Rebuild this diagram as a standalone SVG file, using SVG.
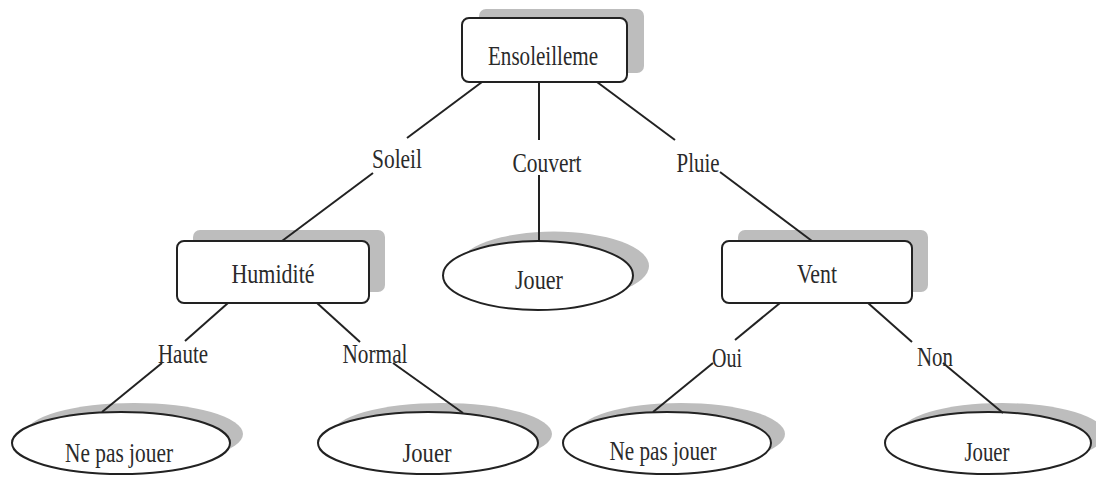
<svg xmlns="http://www.w3.org/2000/svg" width="1096" height="477" viewBox="0 0 1096 477">
<defs>
<style>
.shadow{fill:#bdbdbd;stroke:none}
.node{fill:#ffffff;stroke:#222;stroke-width:2}
.edge{stroke:#222;stroke-width:2;fill:none}
text{font-family:"Liberation Serif","Times New Roman",serif;font-size:28px;fill:#2a2a2a;text-anchor:middle}
</style>
</defs>
<rect width="1096" height="477" fill="#ffffff"/>
<g id="node-ensoleillement">
<rect class="shadow" x="479" y="9" width="165" height="64" rx="7"/>
<rect class="node" x="462" y="18" width="165" height="64" rx="7"/>
<text x="543" y="65" textLength="110" lengthAdjust="spacingAndGlyphs">Ensoleilleme</text>
</g>
<g id="node-humidite">
<rect class="shadow" x="193" y="230" width="192" height="62" rx="7"/>
<rect class="node" x="177" y="241" width="192" height="62" rx="7"/>
<text x="273" y="283" textLength="83" lengthAdjust="spacingAndGlyphs">Humidité</text>
</g>
<g id="node-jouer-couvert">
<ellipse class="shadow" cx="554" cy="266" rx="95" ry="34.5"/>
<ellipse class="node" cx="538" cy="275.5" rx="95" ry="34.5"/>
<text x="539" y="289" textLength="48" lengthAdjust="spacingAndGlyphs">Jouer</text>
</g>
<g id="node-vent">
<rect class="shadow" x="738" y="230" width="190" height="62" rx="7"/>
<rect class="node" x="722" y="241" width="190" height="62" rx="7"/>
<text x="817" y="283" textLength="40" lengthAdjust="spacingAndGlyphs">Vent</text>
</g>
<g id="node-nepasjouer-haute">
<ellipse class="shadow" cx="134" cy="434" rx="109" ry="31"/>
<ellipse class="node" cx="121" cy="443" rx="109" ry="31"/>
<text x="119" y="462" textLength="108" lengthAdjust="spacingAndGlyphs">Ne pas jouer</text>
</g>
<g id="node-jouer-normal">
<ellipse class="shadow" cx="442" cy="434" rx="110" ry="31"/>
<ellipse class="node" cx="428" cy="443" rx="110" ry="31"/>
<text x="427" y="462" textLength="49" lengthAdjust="spacingAndGlyphs">Jouer</text>
</g>
<g id="node-nepasjouer-oui">
<ellipse class="shadow" cx="681" cy="434" rx="104" ry="31"/>
<ellipse class="node" cx="667" cy="443" rx="104" ry="31"/>
<text x="663" y="460" textLength="107" lengthAdjust="spacingAndGlyphs">Ne pas jouer</text>
</g>
<g id="node-jouer-non">
<ellipse class="shadow" cx="1002" cy="434" rx="103" ry="31"/>
<ellipse class="node" cx="988" cy="443" rx="103" ry="31"/>
<text x="987" y="461" textLength="45" lengthAdjust="spacingAndGlyphs">Jouer</text>
</g>
<g id="connectors">
<polyline class="edge" points="482,82 407,138"/>
<polyline class="edge" points="373,173 282,241"/>
<polyline class="edge" points="539,82 539,140"/>
<polyline class="edge" points="539,175 539,241"/>
<polyline class="edge" points="597,82 675,140"/>
<polyline class="edge" points="720,172 812,241"/>
<polyline class="edge" points="228,303 185,341"/>
<polyline class="edge" points="162,363 102,412"/>
<polyline class="edge" points="317,303 360,342"/>
<polyline class="edge" points="393,363 463,413"/>
<polyline class="edge" points="780,303 735,340"/>
<polyline class="edge" points="713,363 653,412"/>
<polyline class="edge" points="868,303 912,342"/>
<polyline class="edge" points="943,363 1003,413"/>
</g>
<g id="labels">
<text x="397" y="168" textLength="50" lengthAdjust="spacingAndGlyphs">Soleil</text>
<text x="547" y="172" textLength="69" lengthAdjust="spacingAndGlyphs">Couvert</text>
<text x="698" y="172" textLength="43" lengthAdjust="spacingAndGlyphs">Pluie</text>
<text x="183" y="363" textLength="50" lengthAdjust="spacingAndGlyphs">Haute</text>
<text x="375" y="363" textLength="65" lengthAdjust="spacingAndGlyphs">Normal</text>
<text x="727" y="367" textLength="30" lengthAdjust="spacingAndGlyphs">Oui</text>
<text x="935" y="366" textLength="36" lengthAdjust="spacingAndGlyphs">Non</text>
</g>
</svg>
